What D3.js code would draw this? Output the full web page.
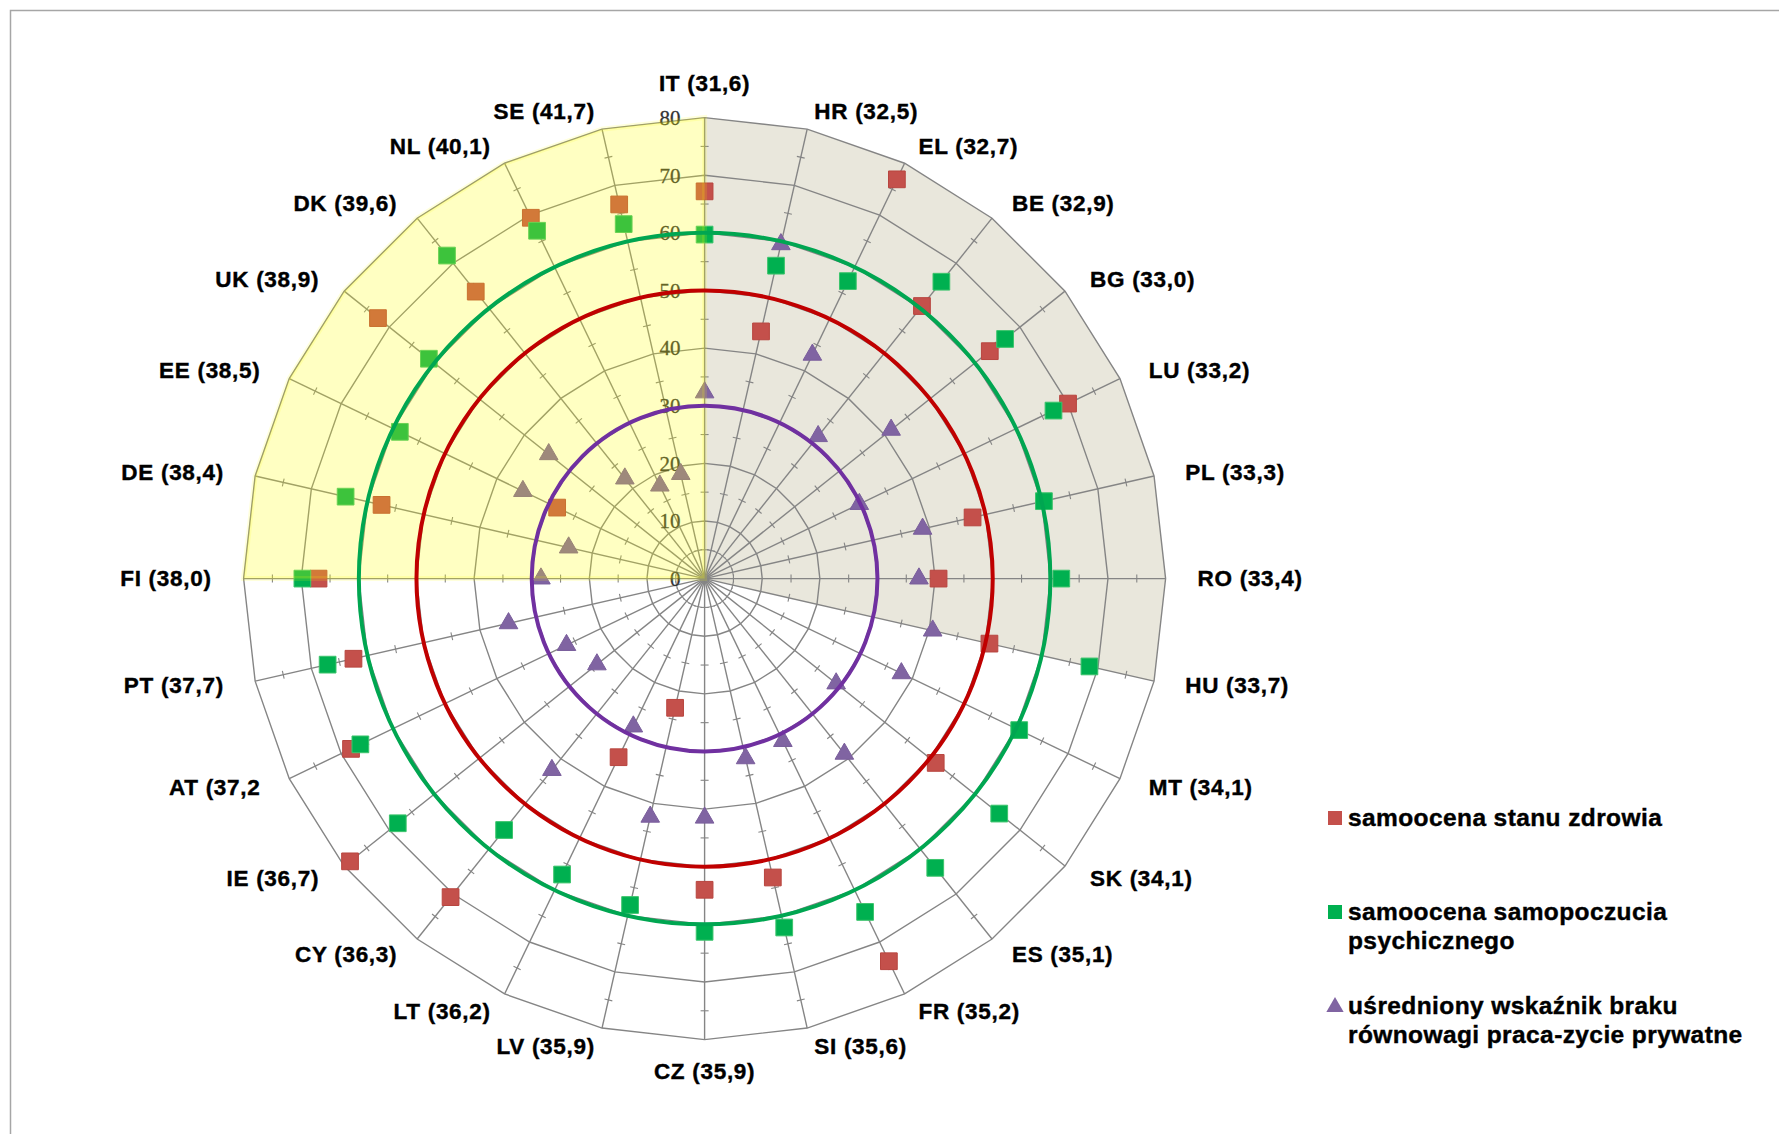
<!DOCTYPE html>
<html>
<head>
<meta charset="utf-8">
<script src="https://cdn.jsdelivr.net/npm/d3@7"></script>
<style>
  body { margin: 0; background: #fff; }
  svg { display: block; }
</style>
</head>
<body>
<div id="vis"></div>
<script>
// category labels (country + averaged imbalance index), clockwise from the top
const labels = ["IT (31,6)", "HR (32,5)", "EL (32,7)", "BE (32,9)", "BG (33,0)", "LU (33,2)", "PL (33,3)",
  "RO (33,4)", "HU (33,7)", "MT (34,1)", "SK (34,1)", "ES (35,1)", "FR (35,2)", "SI (35,6)", "CZ (35,9)",
  "LV (35,9)", "LT (36,2)", "CY (36,3)", "IE (36,7)", "AT (37,2", "PT (37,7)", "FI (38,0)", "DE (38,4)",
  "EE (38,5)", "UK (38,9)", "DK (39,6)", "NL (40,1)", "SE (41,7)"];

// samoocena stanu zdrowia (red squares)
const health = [67.2, 44.0, 76.9, 60.5, 63.3, 70.0, 47.7, 40.6, 50.7, null, 51.3, null, 73.7, 53.2, 54.0,
  23.0, 34.4, 70.7, 78.7, 68.1, 62.5, 67.0, 57.5, 28.4, 72.5, 63.7, 69.5, 66.6];

// samoocena samopoczucia psychicznego (green squares)
const mental = [59.7, 55.7, 57.3, 65.9, 66.7, 67.2, 60.4, 61.9, 68.5, 60.6, 65.4, 64.2, 64.2, 62.1, 61.3,
  58.1, 57.0, 55.8, 68.1, 66.3, 67.1, 69.8, 63.9, 58.7, 61.2, 71.7, 67.0, 63.1];

// uśredniony wskaźnik braku równowagi (purple triangles)
const imbalance = [32.3, 59.5, 43.1, 31.6, 41.4, 29.8, 38.8, 37.2, 40.6, 37.9, 29.2, 38.9, 31.3, 32.0, 41.5,
  42.4, 28.5, 42.5, 23.9, 26.6, 34.9, 28.4, 24.2, 35.0, 34.6, 22.2, 17.9, 18.6];

const ringValues = [10, 20, 30, 40, 50, 60, 70, 80];
const tickLabels = [0, 10, 20, 30, 40, 50, 60, 70, 80];
const minorTicks = [5, 15, 25, 35, 45, 55, 65, 75];
const refLevels = [30, 50, 60];
const refColors = ["#7030A0", "#C00000", "#00A651"];
const graySector = [0, 8];    // IT .. HU
const yellowSector = [21, 28]; // FI .. IT
const legendLines = [
  ["samoocena stanu zdrowia"],
  ["samoocena samopoczucia", "psychicznego"],
  ["uśredniony wskaźnik braku", "równowagi praca-zycie prywatne"]
];

const width = 1779, height = 1134;
const cx = 704.6, cy = 578.6;
const n = labels.length;

const r = d3.scaleLinear().domain([0, 80]).range([0, 461]);
const angle = d3.scaleLinear().domain([0, n]).range([0, 2 * Math.PI]);

function pt(i, v) {
  const a = angle(i);
  return [cx + r(v) * Math.sin(a), cy - r(v) * Math.cos(a)];
}

const svg = d3.select("#vis").append("svg")
  .attr("width", width)
  .attr("height", height);

// frame
svg.append("rect")
  .attr("x", 10.5).attr("y", 10.5)
  .attr("width", 1800).attr("height", 1200)
  .attr("fill", "none").attr("stroke", "#a6a6a6").attr("stroke-width", 1.5);

function sectorPath(range) {
  const pts = [[cx, cy]];
  for (let i = range[0]; i <= range[1]; i++) pts.push(pt(i, 80));
  return d3.line()(pts) + "Z";
}

// gray sector under the grid
svg.append("path")
  .attr("d", sectorPath(graySector))
  .attr("fill", "#E9E7DC");

const grid = svg.append("g").attr("stroke", "#858585").attr("fill", "none");

// rings (polygon web)
grid.selectAll(".ring")
  .data(ringValues)
  .enter().append("path")
  .attr("class", "ring")
  .attr("stroke-width", 1.4)
  .attr("d", v => d3.line()(d3.range(n).map(i => pt(i, v))) + "Z");

// spokes
grid.selectAll(".spoke")
  .data(d3.range(n))
  .enter().append("line")
  .attr("class", "spoke")
  .attr("stroke-width", 1.4)
  .attr("x1", cx).attr("y1", cy)
  .attr("x2", i => pt(i, 80)[0])
  .attr("y2", i => pt(i, 80)[1]);

// minor tick marks across each spoke
const tickData = [];
d3.range(n).forEach(i => minorTicks.forEach(v => tickData.push({ i, v })));
grid.selectAll(".tick")
  .data(tickData)
  .enter().append("line")
  .attr("class", "tick")
  .attr("stroke-width", 1.1)
  .attr("x1", d => pt(d.i, d.v)[0] - 4 * Math.cos(angle(d.i)))
  .attr("y1", d => pt(d.i, d.v)[1] - 4 * Math.sin(angle(d.i)))
  .attr("x2", d => pt(d.i, d.v)[0] + 4 * Math.cos(angle(d.i)))
  .attr("y2", d => pt(d.i, d.v)[1] + 4 * Math.sin(angle(d.i)));

// value axis labels
svg.selectAll(".axis-label")
  .data(tickLabels)
  .enter().append("text")
  .attr("class", "axis-label")
  .attr("x", cx - 24)
  .attr("y", v => cy - r(v))
  .attr("dy", "0.35em")
  .attr("text-anchor", "end")
  .attr("font-family", "Liberation Serif, serif")
  .attr("font-size", 21)
  .attr("fill", "#333")
  .attr("stroke", "#333")
  .attr("stroke-width", 0.3)
  .text(v => v);

// markers
const square = d3.symbol().type(d3.symbolSquare).size(280);
const triangle = d3.symbol().type(d3.symbolTriangle).size(150);

function drawSeries(values, sym, fill, stroke) {
  svg.append("g").selectAll("path")
    .data(values.map((v, i) => ({ v, i })).filter(d => d.v != null))
    .enter().append("path")
    .attr("d", sym)
    .attr("transform", d => "translate(" + pt(d.i, d.v) + ")")
    .attr("fill", fill)
    .attr("stroke", stroke)
    .attr("stroke-width", 1);
}

drawSeries(health, square, "#C4504B", "#B8453F");
drawSeries(mental, square, "#00B050", "#3CC46C");
drawSeries(imbalance, triangle, "#8064A2", "#7A5E9C");

// yellow translucent sector laid over the markers
svg.append("path")
  .attr("d", sectorPath(yellowSector))
  .attr("fill", "rgba(255,255,0,0.24)")
  .attr("stroke", "rgba(255,255,0,0.14)")
  .attr("stroke-width", 5);

// reference circles
svg.selectAll(".ref")
  .data(refLevels)
  .enter().append("circle")
  .attr("class", "ref")
  .attr("cx", cx).attr("cy", cy)
  .attr("r", v => r(v))
  .attr("fill", "none")
  .attr("stroke", (v, i) => refColors[i])
  .attr("stroke-width", 4);

// category labels
svg.selectAll(".cat")
  .data(labels)
  .enter().append("text")
  .attr("class", "cat")
  .attr("font-family", "Liberation Sans, Arial, sans-serif")
  .attr("font-weight", "bold")
  .attr("font-size", 22.5)
  .attr("letter-spacing", 0.7)
  .attr("fill", "#000")
  .attr("stroke", "#000")
  .attr("stroke-width", 0.4)
  .attr("dy", "0.35em")
  .each(function(d, i) {
    const a = angle(i);
    const s = Math.sin(a), c = Math.cos(a);
    const v = pt(i, 80);
    const el = d3.select(this);
    if (Math.abs(s) < 0.01) {
      el.attr("x", v[0]).attr("y", v[1] - (c > 0 ? 34 : -32)).attr("text-anchor", "middle");
    } else {
      el.attr("x", v[0] + 32 * s).attr("y", v[1] - 19 * c)
        .attr("text-anchor", s > 0 ? "start" : "end");
    }
  })
  .text(d => d);

// legend
const legend = svg.append("g").attr("transform", "translate(1327,0)");
const legendY = [818, 912, 1006];
const legendSyms = [
  { sym: d3.symbol().type(d3.symbolSquare).size(196), fill: "#C4504B" },
  { sym: d3.symbol().type(d3.symbolSquare).size(196), fill: "#00B050" },
  { sym: d3.symbol().type(d3.symbolTriangle).size(130), fill: "#8064A2" }
];
legendLines.forEach((lines, k) => {
  legend.append("path")
    .attr("d", legendSyms[k].sym)
    .attr("transform", "translate(8," + (legendY[k] + (k === 2 ? 1 : 0)) + ")")
    .attr("fill", legendSyms[k].fill);
  const t = legend.append("text")
    .attr("x", 21)
    .attr("y", legendY[k] + 8)
    .attr("font-family", "Liberation Sans, Arial, sans-serif")
    .attr("font-weight", "bold")
    .attr("font-size", 24.5)
    .attr("letter-spacing", 0.4)
    .attr("fill", "#000")
    .attr("stroke", "#000")
    .attr("stroke-width", 0.4);
  lines.forEach((line, j) => {
    t.append("tspan").attr("x", 21).attr("dy", j === 0 ? 0 : 29).text(line);
  });
});
</script>
</body>
</html>
